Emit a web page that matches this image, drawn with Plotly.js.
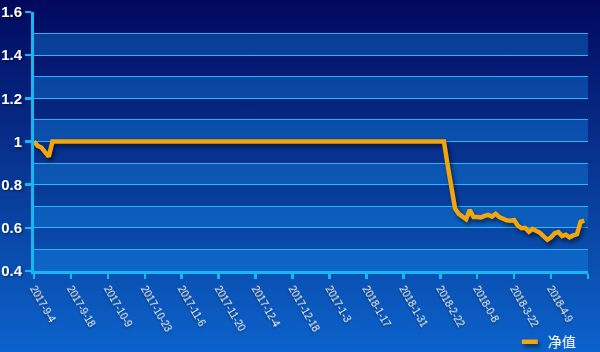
<!DOCTYPE html>
<html>
<head>
<meta charset="utf-8">
<script src="https://cdn.plot.ly/plotly-3.0.1.min.js"></script>
<style>
  html, body { margin: 0; padding: 0; }
  body { width: 600px; height: 352px; background: linear-gradient(to bottom, #02085e 0%, #0a4fb0 75%, #0b62cc 100%); overflow: hidden; }
  #chart { width: 600px; height: 352px; }
  .scatterlayer .js-line { filter: drop-shadow(2px 3px 2px rgba(0,0,0,0.55)); }
  .legend .js-line { filter: drop-shadow(2px 3px 2px rgba(0,0,0,0.55)); }
  .xtick text, .ytick text { filter: drop-shadow(1px 1px 1px rgba(0,0,0,0.5)); }
</style>
</head>
<body>
<div id="chart"></div>
<script>
// Net value series (one point per trading day)
const seriesName = "净值";
const netValues = [
  1.000,0.980,0.972,0.950,0.930,1.000,1.000,1.000,1.000,1.000,
  1.000,1.000,1.000,1.000,1.000,1.000,1.000,1.000,1.000,1.000,
  1.000,1.000,1.000,1.000,1.000,1.000,1.000,1.000,1.000,1.000,
  1.000,1.000,1.000,1.000,1.000,1.000,1.000,1.000,1.000,1.000,
  1.000,1.000,1.000,1.000,1.000,1.000,1.000,1.000,1.000,1.000,
  1.000,1.000,1.000,1.000,1.000,1.000,1.000,1.000,1.000,1.000,
  1.000,1.000,1.000,1.000,1.000,1.000,1.000,1.000,1.000,1.000,
  1.000,1.000,1.000,1.000,1.000,1.000,1.000,1.000,1.000,1.000,
  1.000,1.000,1.000,1.000,1.000,1.000,1.000,1.000,1.000,1.000,
  1.000,1.000,1.000,1.000,1.000,1.000,1.000,1.000,1.000,1.000,
  1.000,1.000,1.000,1.000,1.000,1.000,1.000,1.000,1.000,1.000,
  1.000,1.000,0.890,0.780,0.690,0.665,0.655,0.640,0.683,0.650,
  0.650,0.648,0.655,0.660,0.652,0.665,0.650,0.642,0.635,0.633,
  0.636,0.610,0.598,0.600,0.582,0.595,0.585,0.577,0.560,0.545,
  0.556,0.575,0.580,0.562,0.568,0.556,0.565,0.570,0.628,0.633
];
// Tick labels shown every 10 trading days (as printed in the original)
const tickLabels = [
  "2017-9-4","2017-9-18","2017-10-9","2017-10-23","2017-11-6","2017-11-20",
  "2017-12-4","2017-12-18","2017-1-3","2018-1-17","2018-1-31","2018-2-22",
  "2018-0-8","2018-3-22","2018-4-9",""
];
const tickStep = 10;
const yTickVals = [0.4, 0.6, 0.8, 1.0, 1.2, 1.4, 1.6];
const yTickText = ["0.4","0.6","0.8","1","1.2","1.4","1.6"];
const bandStarts = [0.4, 0.6, 0.8, 1.0, 1.2, 1.4];
const bandHeight = 0.1;

const xIdx = netValues.map((_, i) => i);
const tickVals = tickLabels.map((_, i) => i * tickStep);

const cyan = "#16b8f2";
const gridCyan = "rgba(40,185,250,0.95)";

const shapes = bandStarts.map(b => ({
  type: "rect", xref: "paper", yref: "y", x0: 0, x1: 1, y0: b, y1: b + bandHeight,
  fillcolor: "rgba(20,140,235,0.36)", line: {width: 0}, layer: "below"
}));

const trace = {
  x: xIdx, y: netValues, type: "scatter", mode: "lines", name: seriesName,
  line: {color: "#f2a50c", width: 4.5, shape: "linear"},
  hoverinfo: "skip"
};

const layout = {
  width: 600, height: 352,
  margin: {l: 34, r: 12, t: 12, b: 81, autoexpand: false},
  paper_bgcolor: "rgba(0,0,0,0)",
  plot_bgcolor: "rgba(0,0,0,0)",
  font: {family: "Liberation Sans, Arial, sans-serif", color: "#ffffff"},
  showlegend: true,
  legend: {
    xref: "container", yref: "container",
    x: 0.968, xanchor: "right", y: 0.028, yanchor: "middle", orientation: "h",
    font: {family: "Noto Sans CJK SC", size: 14, color: "#ffffff"},
    bgcolor: "rgba(0,0,0,0)"
  },
  xaxis: {
    range: [0, 150], showgrid: false, zeroline: false, automargin: false,
    tickmode: "array", tickvals: tickVals, ticktext: tickLabels,
    tickangle: 60, ticks: "outside", ticklen: 5, tickwidth: 2.5, tickcolor: cyan,
    showline: true, linecolor: cyan, linewidth: 3,
    tickfont: {size: 10, color: "#ffffff", family: "Liberation Sans, Arial, sans-serif"}
  },
  yaxis: {
    range: [0.4, 1.6], zeroline: false, automargin: false,
    tickmode: "array", tickvals: yTickVals, ticktext: yTickText,
    ticks: "outside", ticklen: 6, tickwidth: 2.5, tickcolor: cyan,
    showline: true, linecolor: cyan, linewidth: 3,
    showgrid: true, gridcolor: gridCyan, gridwidth: 1,
    minor: {dtick: 0.1, tick0: 0.4, showgrid: true, gridcolor: gridCyan, gridwidth: 1, ticks: ""},
    tickfont: {size: 15, color: "#ffffff", family: "Liberation Sans, Arial, sans-serif", weight: "bold"}
  },
  shapes: shapes
};

Plotly.newPlot("chart", [trace], layout, {displayModeBar: false, staticPlot: true}).then(gd => {
  // shorten legend line symbol to match original's short swatch
  gd.querySelectorAll(".legend .legendlines path").forEach(p => p.setAttribute("d", "M14,0h16"));
});
</script>
</body>
</html>
